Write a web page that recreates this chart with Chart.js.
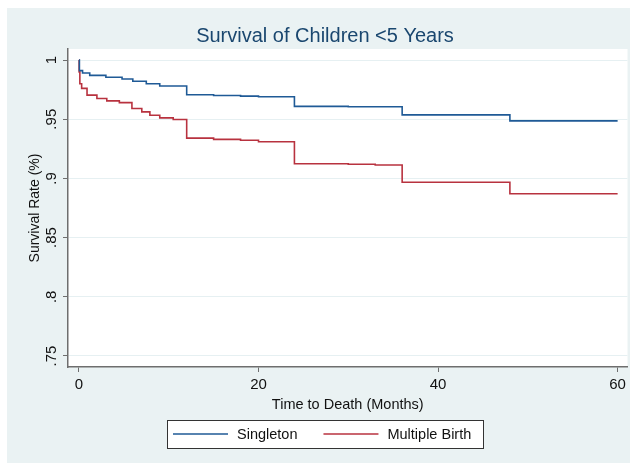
<!DOCTYPE html>
<html>
<head>
<meta charset="utf-8">
<script src="https://cdn.jsdelivr.net/npm/chart.js@4/dist/chart.umd.min.js"></script>
<style>
  html, body { margin: 0; padding: 0; background: #ffffff; }
  #wrap { width: 630px; height: 463px; }
</style>
</head>
<body>
<div id="wrap"><canvas id="survivalChart" width="630" height="463"></canvas></div>
<script>
// Kaplan-Meier 生存曲線
const singletonMonths = [0, 0.05, 0.4, 1.2, 3, 4.8, 6, 7.5, 9, 12, 15, 18, 20, 24, 30, 36, 48, 60];
const singletonSurv   = [1, 0.991, 0.989, 0.987, 0.9855, 0.984, 0.982, 0.980, 0.978, 0.9706, 0.970, 0.9695, 0.969, 0.9608, 0.9605, 0.9537, 0.9486, 0.9486];

const multipleMonths = [0, 0.02, 0.1, 0.3, 0.9, 2, 3.1, 4.5, 5.9, 7, 7.9, 9, 10.5, 12, 15, 18, 20, 24, 30, 33, 36, 48, 60];
const multipleSurv   = [1, 0.99, 0.98, 0.976, 0.9703, 0.9675, 0.9655, 0.964, 0.959, 0.9562, 0.9534, 0.9511, 0.9497, 0.934, 0.933, 0.9322, 0.931, 0.9124, 0.912, 0.9113, 0.8968, 0.887, 0.887];

const xTicks = [0, 20, 40, 60];
const yTicks = [0.75, 0.8, 0.85, 0.9, 0.95, 1];

const BG = '#eaf2f3';
const AXIS = '#6e6e6e';
const FONT = "'Liberation Sans', Arial, sans-serif";

const toPoints = (xs, ys) => xs.map((x, i) => ({ x: x, y: ys[i] }));

// 背景・タイトル位置・凡例 (Stata 風の枠付き凡例)
const stataLook = {
    id: 'stataLook',
    afterLayout: (chart) => {
        // タイトルは少し右寄せ
        if (chart.titleBlock) chart.titleBlock.left += 15;
    },
    beforeDraw: (chart) => {
        const ctx = chart.ctx;
        const a = chart.chartArea;
        ctx.save();
        ctx.fillStyle = '#ffffff';
        ctx.fillRect(0, 0, chart.width, chart.height);
        ctx.fillStyle = BG;
        ctx.fillRect(7, 8, chart.width - 7, chart.height - 8);
        ctx.fillStyle = '#ffffff';
        ctx.fillRect(a.left, a.top, a.right - a.left, a.bottom - a.top);
        ctx.restore();
    },
    afterDraw: (chart) => {
        const ctx = chart.ctx;
        const lineLen = 55;
        const gap = 9;
        const itemGap = 26;
        const boxLeft = 167;
        const boxTop = 420;
        const boxH = 28;
        const cy = boxTop + boxH / 2;

        ctx.save();
        ctx.font = "14.5px 'Liberation Sans', Arial, sans-serif";
        const items = chart.data.datasets.map((ds) => ({
            label: ds.label,
            color: ds.borderColor,
            width: ctx.measureText(ds.label).width,
        }));
        const total = items.reduce((s, it) => s + lineLen + gap + it.width, 0) + itemGap * (items.length - 1);
        const boxW = 6 + total + 12;

        ctx.fillStyle = '#ffffff';
        ctx.fillRect(boxLeft, boxTop, boxW, boxH);
        ctx.strokeStyle = '#333333';
        ctx.lineWidth = 1;
        ctx.strokeRect(boxLeft + 0.5, boxTop + 0.5, Math.round(boxW), boxH);

        let x = boxLeft + 6;
        items.forEach((it) => {
            ctx.strokeStyle = it.color;
            ctx.lineWidth = 1.6;
            ctx.beginPath();
            ctx.moveTo(x, cy);
            ctx.lineTo(x + lineLen, cy);
            ctx.stroke();
            ctx.fillStyle = '#111111';
            ctx.textAlign = 'left';
            ctx.textBaseline = 'middle';
            ctx.fillText(it.label, x + lineLen + gap, cy + 0.5);
            x += lineLen + gap + it.width + itemGap;
        });
        ctx.restore();
    },
};

new Chart(document.getElementById('survivalChart'), {
    type: 'line',
    data: {
        datasets: [
            {
                label: 'Singleton',
                data: toPoints(singletonMonths, singletonSurv),
                borderColor: '#1f5a96',
                backgroundColor: '#1f5a96',
                borderWidth: 1.6,
                stepped: true,
                pointRadius: 0,
                fill: false,
            },
            {
                label: 'Multiple Birth',
                data: toPoints(multipleMonths, multipleSurv),
                borderColor: '#b8323f',
                backgroundColor: '#b8323f',
                borderWidth: 1.6,
                stepped: true,
                pointRadius: 0,
                fill: false,
            },
        ],
    },
    options: {
        responsive: false,
        animation: false,
        layout: { padding: { left: 7, top: 8, right: 2, bottom: 45 } },
        scales: {
            x: {
                type: 'linear',
                min: -1.22,
                max: 61.1,
                afterBuildTicks: (scale) => { scale.ticks = xTicks.map((v) => ({ value: v })); },
                afterFit: (scale) => { scale.height = 51; },
                grid: { color: 'rgba(0,0,0,0)', tickColor: AXIS, tickLength: 5, drawOnChartArea: false },
                border: { display: true, color: AXIS, width: 1.5 },
                ticks: { color: '#111', font: { family: FONT, size: 15 }, padding: 4, maxRotation: 0 },
                title: {
                    display: true,
                    text: 'Time to Death (Months)',
                    color: '#111',
                    font: { family: FONT, size: 14.5 },
                    padding: { top: 3, bottom: 4 },
                },
            },
            y: {
                min: 0.7407,
                max: 1.0093,
                afterBuildTicks: (scale) => { scale.ticks = yTicks.map((v) => ({ value: v })); },
                afterFit: (scale) => { scale.width = 61; },
                grid: { color: '#e6f0f2', lineWidth: 1, tickColor: AXIS, tickLength: 5 },
                border: { display: true, color: AXIS, width: 1.5 },
                ticks: {
                    color: '#111',
                    font: { family: FONT, size: 15 },
                    padding: 1,
                    minRotation: 90,
                    maxRotation: 90,
                    crossAlign: 'center',
                    callback: (v) => String(v).replace(/^0(?=\.)/, ''),
                },
                title: {
                    display: true,
                    text: 'Survival Rate (%)',
                    color: '#111',
                    font: { family: FONT, size: 14 },
                    padding: { top: 20, bottom: 0 },
                },
            },
        },
        plugins: {
            title: {
                display: true,
                text: 'Survival of Children <5 Years',
                color: '#1a476f',
                font: { family: FONT, size: 20, weight: 'normal' },
                padding: { top: 16, bottom: 1 },
            },
            legend: { display: false },
            tooltip: { enabled: false },
        },
    },
    plugins: [stataLook],
});
</script>
</body>
</html>
